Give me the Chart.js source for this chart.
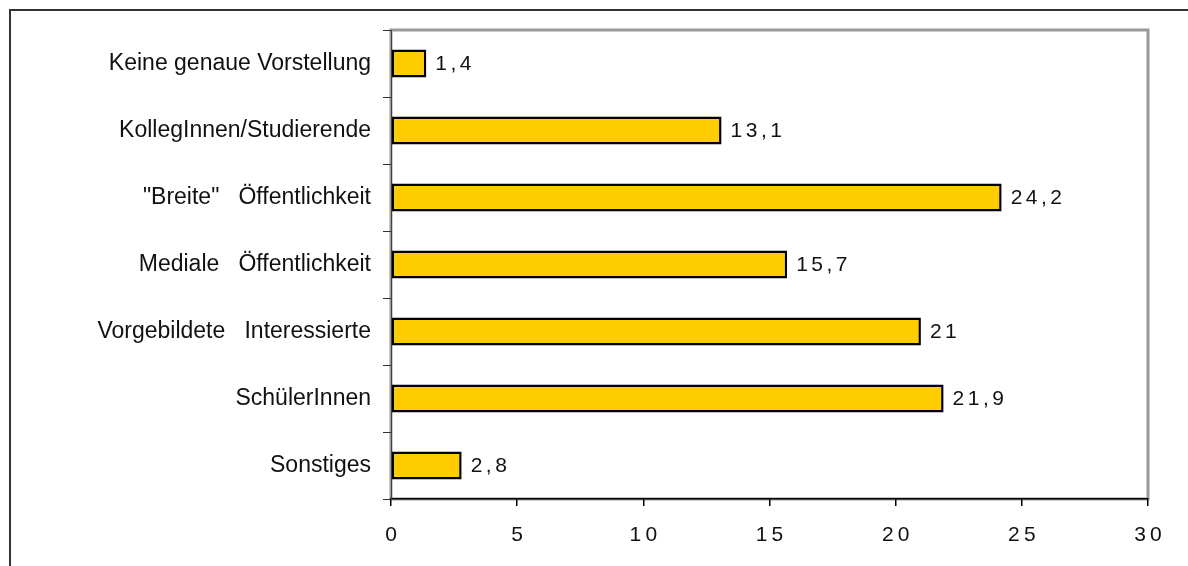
<!DOCTYPE html>
<html>
<head>
<meta charset="utf-8">
<script src="https://cdn.jsdelivr.net/npm/chart.js@4.4.1/dist/chart.umd.min.js"></script>
<style>
  html, body { margin: 0; padding: 0; background: #fff; overflow: hidden; }
  #frame {
    position: absolute; left: 9px; top: 9px; width: 1300px; height: 700px;
    border: 2px solid #333; box-sizing: border-box;
  }
  #wrap { position: absolute; left: 0; top: 0; width: 1188px; height: 566px; }
</style>
</head>
<body>
<div id="frame"></div>
<div id="wrap"><canvas id="chart" width="1188" height="566"></canvas></div>
<script>
const categories = [
  "Keine genaue Vorstellung",
  "KollegInnen/Studierende",
  "\"Breite\"   Öffentlichkeit",
  "Mediale   Öffentlichkeit",
  "Vorgebildete   Interessierte",
  "SchülerInnen",
  "Sonstiges",
];
const values = [1.4, 13.1, 24.2, 15.7, 21, 21.9, 2.8];
const xTicks = [0, 5, 10, 15, 20, 25, 30];

const FONT = "'Liberation Sans', Arial, sans-serif";

// grey frame round the plot area
const plotFrame = {
  id: "plotFrame",
  beforeDraw(chart) {
    const { ctx, chartArea: a } = chart;
    ctx.save();
    ctx.strokeStyle = "#999999";
    ctx.lineWidth = 3;
    ctx.strokeRect(a.left, a.top, a.right - a.left, a.bottom - a.top);
    ctx.restore();
  },
};

// value labels next to the bars, German decimal comma
const valueLabels = {
  id: "valueLabels",
  afterDatasetsDraw(chart) {
    const { ctx } = chart;
    const meta = chart.getDatasetMeta(0);
    ctx.save();
    ctx.font = `21px ${FONT}`;
    ctx.fillStyle = "#111";
    ctx.textAlign = "left";
    ctx.textBaseline = "middle";
    ctx.letterSpacing = "3.5px";
    meta.data.forEach((bar, i) => {
      const txt = String(values[i]).replace(".", ",");
      ctx.fillText(txt, bar.x + 9, bar.y + 1);
    });
    ctx.restore();
  },
};

new Chart(document.getElementById("chart"), {
  type: "bar",
  data: {
    labels: categories,
    datasets: [
      {
        data: values,
        backgroundColor: "#FFCC00",
        borderColor: "#000",
        borderWidth: 2.5,
        borderSkipped: false,
        barPercentage: 0.42,
        categoryPercentage: 1,
      },
    ],
  },
  options: {
    indexAxis: "y",
    responsive: false,
    animation: false,
    layout: { padding: { top: 30, right: 40, left: 0, bottom: 0 } },
    plugins: {
      legend: { display: false },
      tooltip: { enabled: false },
    },
    scales: {
      x: {
        min: 0,
        max: 30,
        afterBuildTicks: (s) => {
          s.ticks = xTicks.map((v) => ({ value: v }));
        },
        afterFit: (s) => {
          s.height = 67;
        },
        grid: {
          drawOnChartArea: false,
          drawTicks: true,
          tickLength: 7,
          color: "#000",
          lineWidth: 1.5,
        },
        border: { display: true, color: "#000", width: 1.5 },
        ticks: {
          color: "#111",
          font: { family: FONT, size: 21 },
          padding: 17,
          maxRotation: 0,
          callback: (v) => String(v).split("").join("\u2009"),
        },
      },
      y: {
        afterFit: (s) => {
          s.width = 391;
        },
        grid: {
          drawOnChartArea: false,
          drawTicks: true,
          tickLength: 8,
          color: "#333",
          lineWidth: 1,
        },
        border: { display: true, color: "#444", width: 1 },
        ticks: {
          color: "#111",
          font: { family: FONT, size: 23 },
          padding: 12,
        },
      },
    },
  },
  plugins: [plotFrame, valueLabels],
});
</script>
</body>
</html>
